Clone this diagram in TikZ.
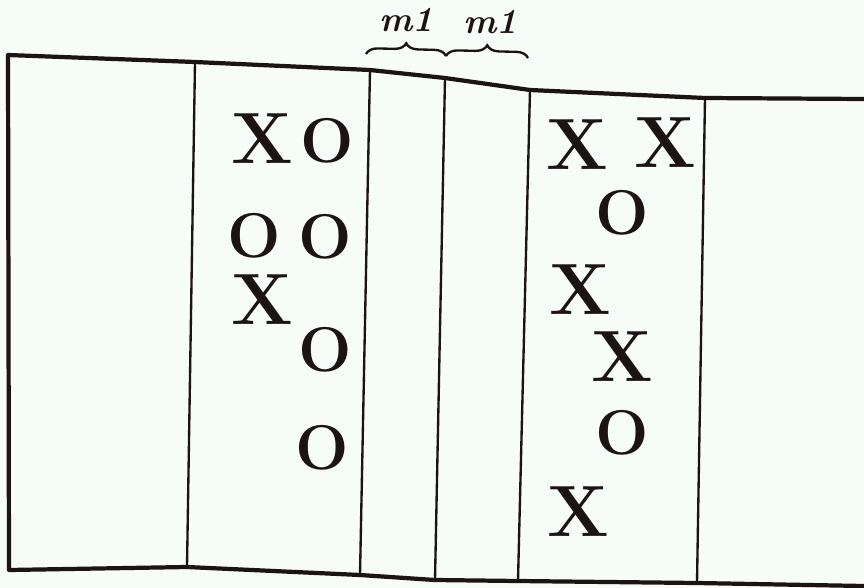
\documentclass[tikz,border=0pt]{standalone}
\usetikzlibrary{decorations.pathreplacing}
\definecolor{paper}{RGB}{246,252,248}
\definecolor{ink}{RGB}{28,20,18}
\begin{document}
\begin{tikzpicture}[x=0.03cm,y=-0.03cm,
    frame/.style={ink,line width=3.6pt,line join=round},
    wall/.style={ink,line width=2pt},
    piece/.style={ink,inner sep=0pt,font=\fontsize{62}{62}\selectfont\bfseries},
    ring/.style={piece,font=\fontsize{54}{54}\selectfont\bfseries},
    tag/.style={ink,inner sep=0pt,font=\fontsize{30}{30}\selectfont\bfseries\itshape}]
  \fill[paper] (0,0) rectangle (864,588);
  \useasboundingbox (0,0) rectangle (864,588);

  % outer box
  \draw[frame] (864,99) -- (705,98) -- (530,90) -- (445,78) -- (370,70) -- (195,62) -- (8,55) -- (9,570)
    -- (187,567) -- (360,575) -- (435,580) -- (518,581) -- (697,583) -- (864,586);

  % strips
  \foreach \a/\ya/\b/\yb in {195/62/187/567,370/70/360/575,445/78/435/580,530/90/518/581,705/98/697/583}
    \draw[wall] (\a,\ya) -- (\b,\yb);

  % braces
  \coordinate (b0) at (366,54);
  \coordinate (b1) at (446,56);
  \coordinate (b2) at (528,58);
  \draw[ink,line width=2pt,decorate,decoration={brace,amplitude=10pt}] (b0) -- (b1);
  \draw[ink,line width=2pt,decorate,decoration={brace,amplitude=10pt}] (b1) -- (b2);
  \node[tag] (m1a) at (406,20) {m1};
  \node[tag] (m1b) at (490,22) {m1};

  % left side
  \node[piece] (l1) at (262,139) {X};
  \node[ring] (l2) at (327,141) {O};
  \node[ring] (l3) at (254,236) {O};
  \node[ring] (l4) at (325,237) {O};
  \node[piece] (l5) at (262,300) {X};
  \node[ring] (l6) at (325,350) {O};
  \node[ring] (l7) at (322,448) {O};

  % right side
  \node[piece] (r1) at (577,145) {X};
  \node[piece] (r2) at (665,143) {X};
  \node[ring] (r3) at (622,213) {O};
  \node[piece] (r4) at (580,290) {X};
  \node[piece] (r5) at (622,357) {X};
  \node[ring] (r6) at (622,433) {O};
  \node[piece] (r7) at (578,512) {X};
\end{tikzpicture}
\end{document}
